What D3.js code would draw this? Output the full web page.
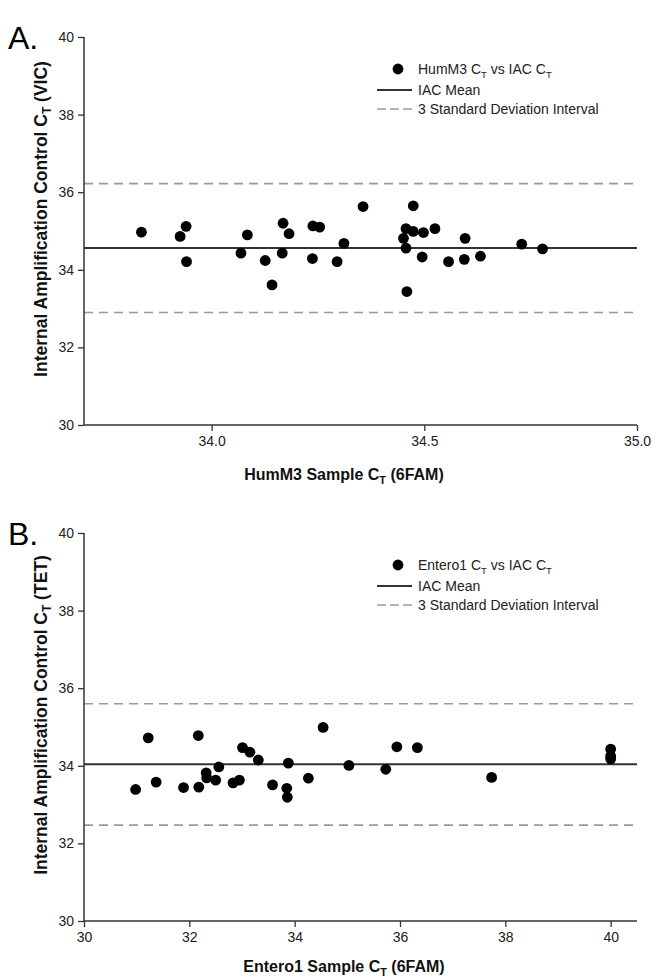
<!DOCTYPE html>
<html><head><meta charset="utf-8">
<script src="https://cdn.jsdelivr.net/npm/d3@7"></script>
<style>body{margin:0;background:#fff} svg{display:block} text{font-family:"Liberation Sans",Arial,sans-serif}</style>
</head><body><svg id="c" width="653" height="980"></svg>
<script>
// ---- Data ----
const hummX = [33.835,33.926,33.940,33.941,34.069,34.084,34.126,34.142,34.166,34.168,34.182,34.237,34.238,34.254,34.295,34.311,34.356,34.474,34.457,34.474,34.498,34.525,34.451,34.457,34.495,34.459,34.557,34.594,34.596,34.632,34.729,34.778];
const hummY = [34.97,34.86,35.12,34.21,34.43,34.90,34.24,33.61,34.43,35.20,34.93,34.29,35.13,35.10,34.21,34.68,35.63,35.65,35.06,34.99,34.96,35.06,34.81,34.56,34.33,33.44,34.21,34.27,34.81,34.35,34.66,34.54];
const hummStats = [34.56, 36.22, 32.90]; // mean, upper, lower

const enteroX = [31.22,30.98,31.37,31.89,32.17,32.18,32.32,32.33,32.50,32.56,32.83,32.95,33.01,33.15,33.31,33.58,33.85,33.86,33.88,34.26,34.54,35.03,35.73,35.94,36.33,37.74,40.0,40.0,40.0];
const enteroY = [34.72,33.39,33.58,33.44,34.78,33.45,33.82,33.69,33.63,33.97,33.56,33.63,34.47,34.35,34.15,33.51,33.42,33.19,34.07,33.68,34.99,34.01,33.91,34.49,34.47,33.70,34.43,34.25,34.18];
const enteroStats = [34.04, 35.60, 32.47];

const yTicks = [30,32,34,36,38,40];
const hummXTicks = [34.0,34.5,35.0];
const enteroXTicks = [30,32,34,36,38,40];

const panels = [
  {label:"A.", top:37, xDom:[33.7,35.0], xTicks:hummXTicks, fmt:d3.format(".1f"), xs:hummX, ys:hummY, stats:hummStats, xtOff:55,
   xTitle:["HumM3 Sample C","T"," (6FAM)"], yTitle:["Internal Amplification Control C","T"," (VIC)"], legend:["HumM3 C","T"," vs IAC C","T"]},
  {label:"B.", top:533, xDom:[30,40.5], xTicks:enteroXTicks, fmt:d3.format("d"), xs:enteroX, ys:enteroY, stats:enteroStats, xtOff:51,
   xTitle:["Entero1 Sample C","T"," (6FAM)"], yTitle:["Internal Amplification Control C","T"," (TET)"], legend:["Entero1 C","T"," vs IAC C","T"]}
];

const svg = d3.select("#c");
const L = 84, R = 637, H = 388;
const axisCol = "#333";

function richText(sel, parts, size){
  parts.forEach((p,i)=>{
    const sub = i%2===1;
    const t = sel.append("tspan").text(p);
    if(sub){ t.attr("font-size", size*0.68).attr("dy", size*0.25); }
    else if(i>0){ t.attr("dy", -size*0.25); }
  });
}

panels.forEach(p=>{
  const top = p.top, bot = top + H;
  const x = d3.scaleLinear().domain(p.xDom).range([L,R]);
  const y = d3.scaleLinear().domain([30,40]).range([bot,top]);
  const g = svg.append("g");

  // reference lines
  [p.stats[1], p.stats[2]].forEach(v=>{
    g.append("line").attr("x1",L).attr("x2",R).attr("y1",y(v)).attr("y2",y(v))
      .attr("stroke","#999").attr("stroke-width",1.6).attr("stroke-dasharray","9,6");
  });
  g.append("line").attr("x1",L).attr("x2",R).attr("y1",y(p.stats[0])).attr("y2",y(p.stats[0]))
    .attr("stroke","#333").attr("stroke-width",2);

  // points
  g.selectAll("circle").data(p.xs.map((v,i)=>[v,p.ys[i]])).join("circle")
    .attr("cx",d=>x(d[0])).attr("cy",d=>y(d[1])).attr("r",5.4).attr("fill","#000");

  // axes
  const ya = g.append("g").attr("transform",`translate(${L},0)`)
    .call(d3.axisLeft(y).tickValues(yTicks).tickSize(6).tickPadding(4).tickFormat(d3.format("d")));
  const xa = g.append("g").attr("transform",`translate(0,${bot})`)
    .call(d3.axisBottom(x).tickValues(p.xTicks).tickSize(6).tickPadding(5).tickFormat(p.fmt));
  [ya,xa].forEach(a=>{
    a.select(".domain").attr("stroke",axisCol).attr("stroke-width",1.5);
    a.selectAll(".tick line").attr("stroke",axisCol).attr("stroke-width",1.3);
    a.selectAll(".tick text").attr("font-size",14).attr("fill","#222").attr("font-family","Liberation Sans, Arial, sans-serif");
  });
  ya.select(".domain").attr("d",`M0,${bot}V${top}`);
  xa.select(".domain").attr("d",`M${L},0H${R}`);

  // titles
  const xt = g.append("text").attr("x",344).attr("y",bot+p.xtOff).attr("text-anchor","middle")
    .attr("font-size",16).attr("font-weight","bold").attr("fill","#111");
  richText(xt,p.xTitle,16);
  const yt = g.append("text").attr("transform",`translate(47,${top+182}) rotate(-90)`).attr("text-anchor","middle")
    .attr("font-size",17.5).attr("font-weight","bold").attr("fill","#111");
  richText(yt,p.yTitle,17.5);

  // panel label
  g.append("text").attr("x",8).attr("y",top+12).attr("font-size",32).attr("fill","#000").text(p.label);

  // legend
  const lx = 418, ly = top + 32;
  g.append("circle").attr("cx",398).attr("cy",ly).attr("r",5.4).attr("fill","#000");
  const lt = g.append("text").attr("x",lx).attr("y",ly+5).attr("font-size",14).attr("fill","#222");
  richText(lt,p.legend,14);
  g.append("line").attr("x1",377).attr("x2",412).attr("y1",ly+21).attr("y2",ly+21).attr("stroke","#333").attr("stroke-width",2);
  g.append("text").attr("x",lx).attr("y",ly+26).attr("font-size",14).attr("fill","#222").text("IAC Mean");
  g.append("line").attr("x1",377).attr("x2",412).attr("y1",ly+40).attr("y2",ly+40).attr("stroke","#999").attr("stroke-width",1.6).attr("stroke-dasharray","9,4");
  g.append("text").attr("x",lx).attr("y",ly+45).attr("font-size",14).attr("fill","#222").text("3 Standard Deviation Interval");
});
</script></body></html>
